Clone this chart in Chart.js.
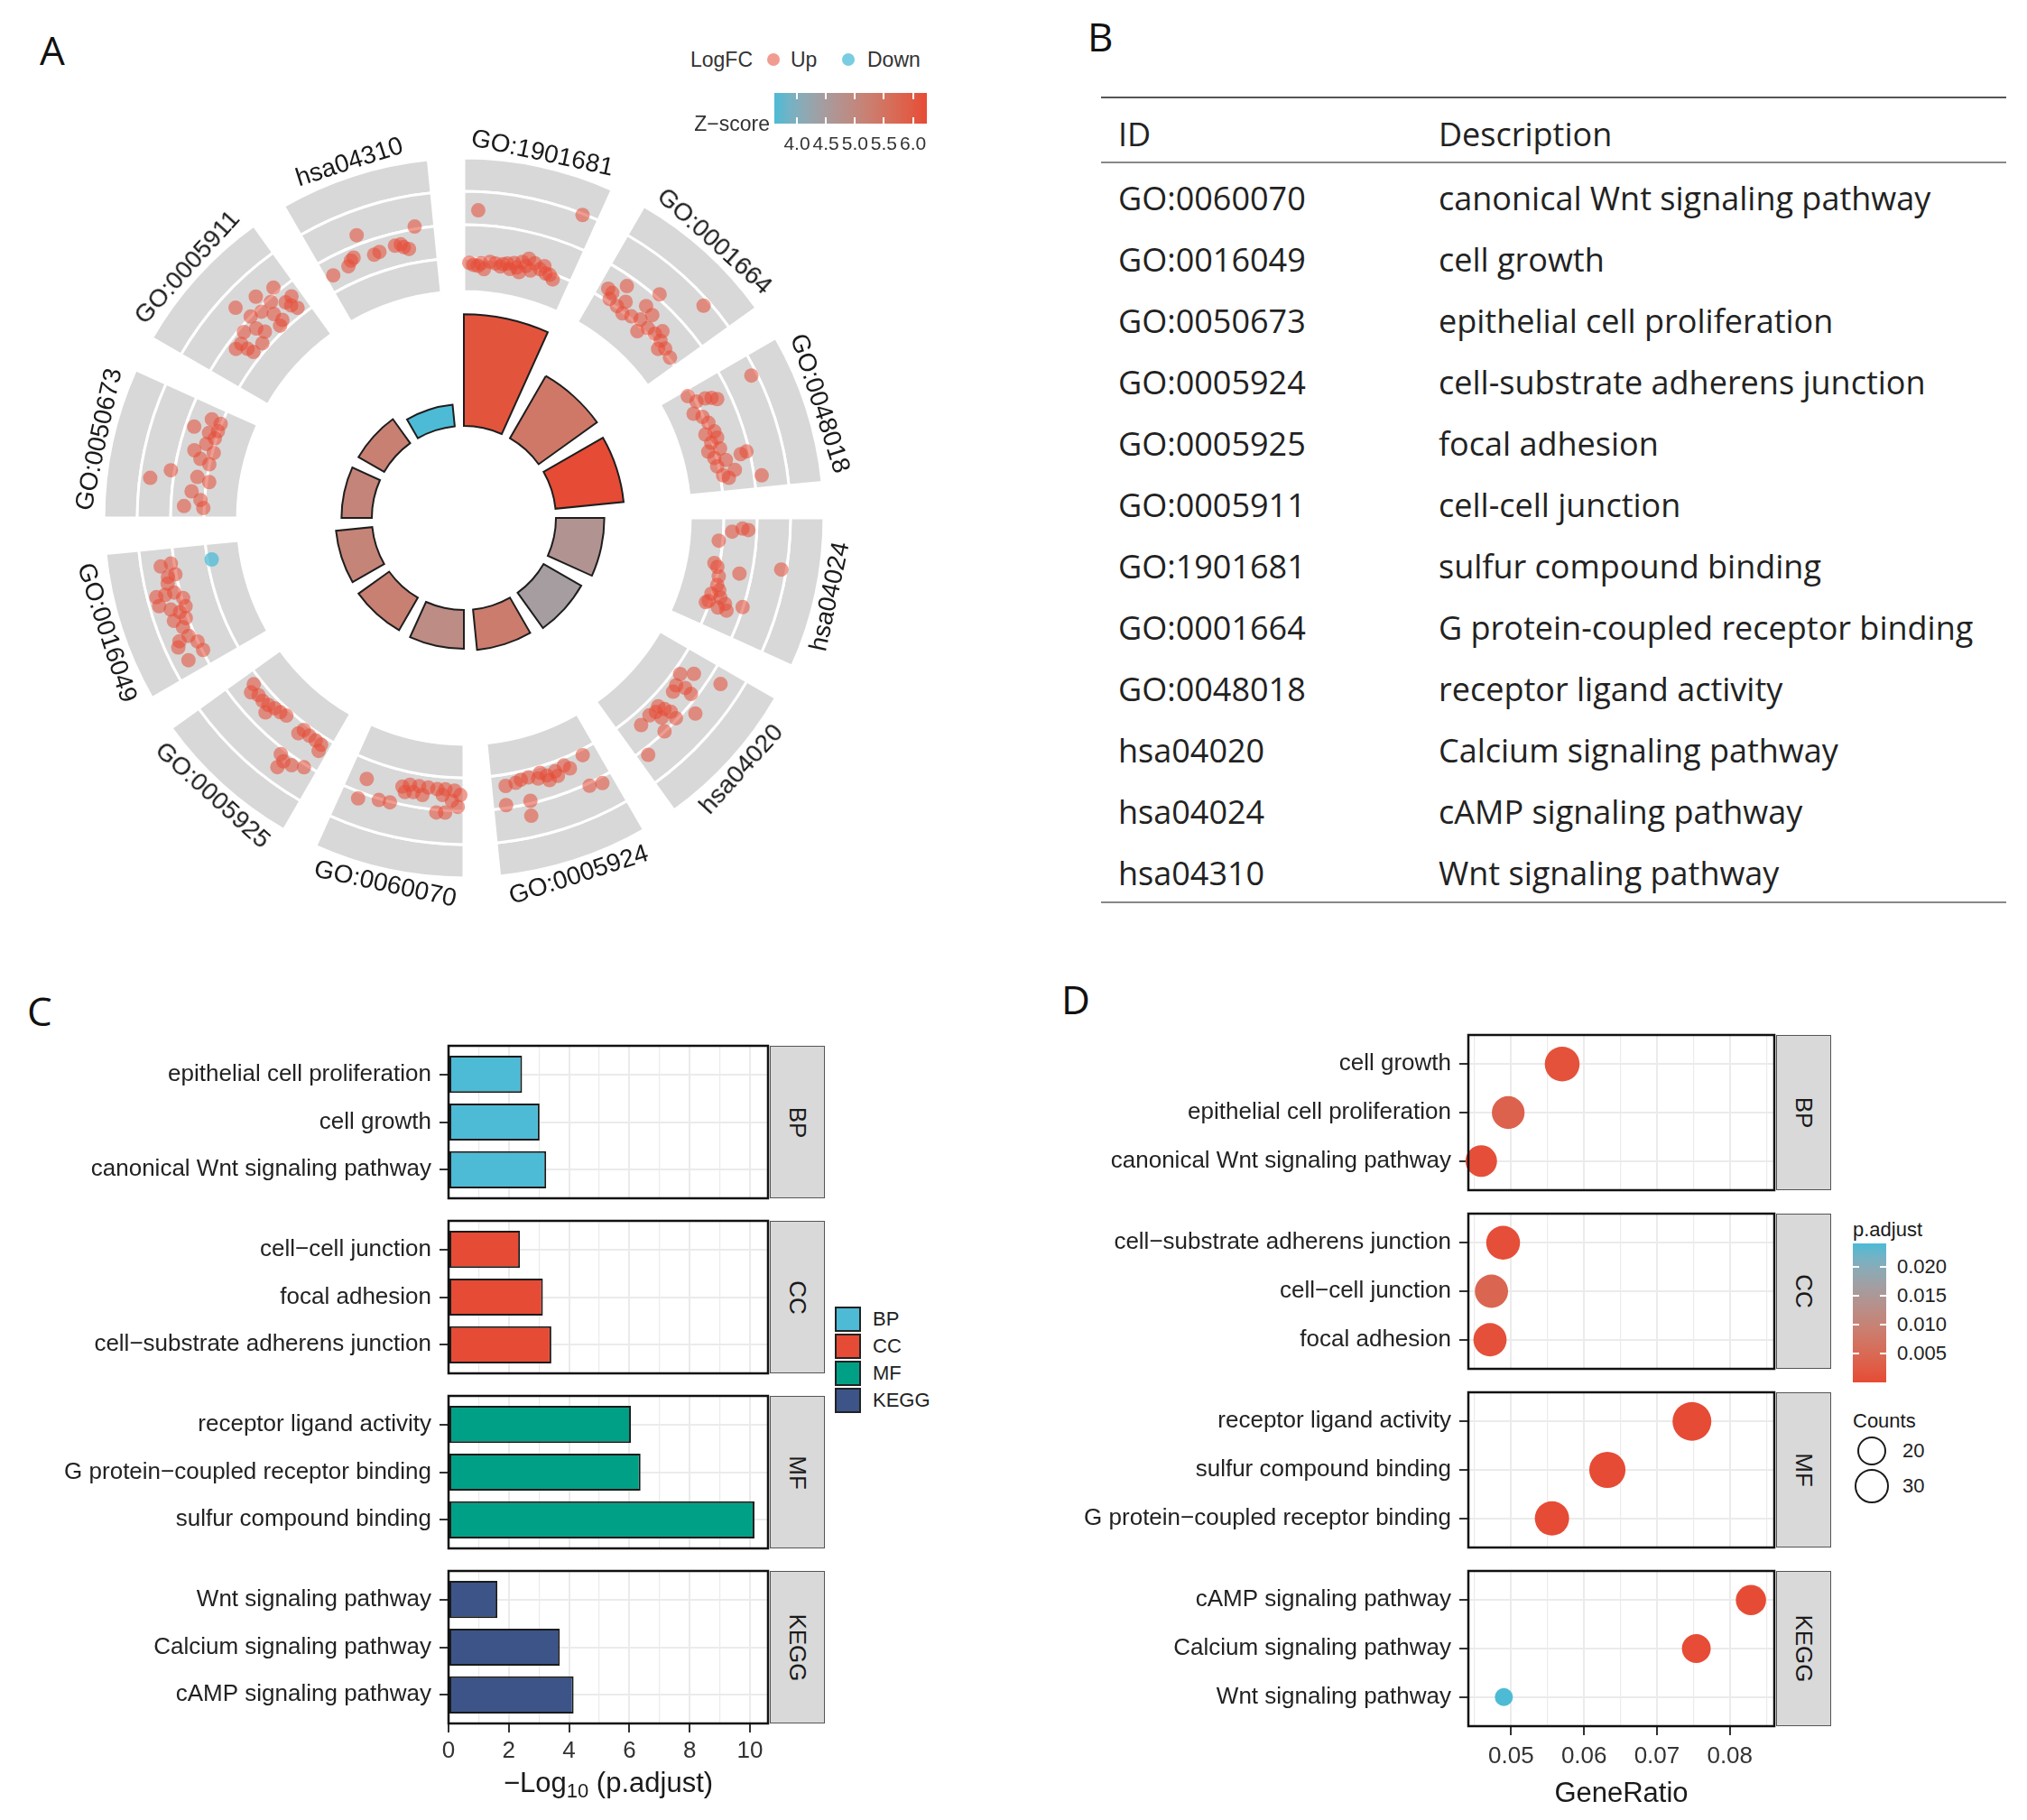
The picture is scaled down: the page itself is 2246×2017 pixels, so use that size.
<!DOCTYPE html>
<html>
<head>
<meta charset="utf-8">
<script src="https://cdn.jsdelivr.net/npm/chart.js"></script>
<style>
html, body { margin: 0; padding: 0; background: #fff; }
#page { position: relative; width: 2246px; height: 2017px; overflow: hidden; font-family: "Liberation Sans", Arial, sans-serif; color: #1a1a1a; }
#page canvas { position: absolute; }
.abs { position: absolute; white-space: nowrap; line-height: 1; }
.tbl { font-family: "Open Sans", sans-serif; font-size: 36px; color: #222; }
.letter { font-family: "Open Sans", sans-serif; font-size: 44px; color: #111; }
</style>
</head>
<body>
<div id="page"></div>
<script>
'use strict';
// ---------------- data ----------------
const termIds = ['GO:0060070', 'GO:0016049', 'GO:0050673', 'GO:0005924', 'GO:0005925', 'GO:0005911',
  'GO:1901681', 'GO:0001664', 'GO:0048018', 'hsa04020', 'hsa04024', 'hsa04310'];
const termDesc = ['canonical Wnt signaling pathway', 'cell growth', 'epithelial cell proliferation',
  'cell-substrate adherens junction', 'focal adhesion', 'cell-cell junction', 'sulfur compound binding',
  'G protein-coupled receptor binding', 'receptor ligand activity', 'Calcium signaling pathway',
  'cAMP signaling pathway', 'Wnt signaling pathway'];
const termOnt = ['BP', 'BP', 'BP', 'CC', 'CC', 'CC', 'MF', 'MF', 'MF', 'KEGG', 'KEGG', 'KEGG'];
const negLog10P = [3.24, 3.02, 2.44, 3.41, 3.13, 2.37, 10.15, 6.37, 6.05, 3.69, 4.15, 1.62];
const geneRatio = [0.0459, 0.0570, 0.0496, 0.0489, 0.0471, 0.0473, 0.0632, 0.0556, 0.0748, 0.0754, 0.0829, 0.0490];
const geneCount = [24, 30, 26, 28, 27, 27, 33, 29, 39, 20, 22, 13];
const zScore = [4.90, 5.11, 5.10, 5.29, 5.20, 5.20, 6.10, 5.39, 6.24, 4.47, 4.69, 3.61];

const ontologies = ['BP', 'CC', 'MF', 'KEGG'];
const ontColors = ['#4DBBD5', '#E64B35', '#00A087', '#3C5488'];

const logpTicks = [0, 1, 2, 3, 4, 5, 6, 7, 8, 9, 10];
const ratioTicks = [0.045, 0.05, 0.055, 0.06, 0.065, 0.07, 0.075, 0.08, 0.085];
const zTicks = [4.0, 4.5, 5.0, 5.5, 6.0];
const pTicks = [0.005, 0.010, 0.015, 0.020];
const countTicks = [20, 30];

// genes in the outer ring of panel A: [position across sector 0..1, scaled logFC, -1 if down]
const genes_GO1901681 = [[.11,2.61],[.88,3.14],[.09,.94],[.16,1.0],[.24,1.07],[.34,.97],[.43,.94],[.46,1.14],[.53,1.23],[.58,1.37],[.64,1.28],[.70,1.15],[.76,1.08],[.84,.98],[.19,.83],[.52,.90],[.62,1.03],[.40,1.09],[.29,1.04],[.73,1.28],[.57,1.13],[.80,1.08],[.05,1.0],[.13,.92],[.36,1.05],[.49,1.02]];
const genes_GO0001664 = [[.09,1.48],[.15,1.24],[.21,1.86],[.46,2.28],[.76,2.98],[.24,1.19],[.32,1.11],[.40,1.21],[.48,1.32],[.44,1.74],[.53,1.66],[.53,.99],[.58,1.28],[.66,1.31],[.74,1.29],[.82,1.24],[.91,1.18],[.78,1.07],[.69,1.53],[.28,1.45],[.14,1.44]];
const genes_GO0048018 = [[.15,3.0],[.06,.99],[.14,1.15],[.15,1.43],[.17,1.61],[.20,1.75],[.23,.91],[.29,1.12],[.36,1.22],[.45,1.30],[.45,1.01],[.54,1.10],[.51,1.32],[.61,1.31],[.68,1.07],[.76,1.10],[.85,1.23],[.88,1.39],[.82,1.61],[.70,1.88],[.69,2.07],[.90,2.39],[.72,1.40],[.61,.94]];
const genes_hsa04024 = [[.21,1.02],[.12,1.41],[.09,1.72],[.10,1.90],[.42,.98],[.45,1.09],[.53,1.19],[.47,1.79],[.38,3.02],[.61,1.21],[.70,1.11],[.79,1.03],[.71,1.41],[.75,1.60],[.80,1.71],[.73,2.14],[.65,1.31],[.77,1.10],[.80,1.43]];
const genes_hsa04020 = [[.24,1.35],[.17,1.69],[.34,1.46],[.31,1.73],[.40,1.51],[.32,1.98],[.12,2.54],[.58,1.47],[.56,1.67],[.54,1.86],[.63,1.54],[.69,1.48],[.55,2.11],[.42,2.46],[.80,1.53],[.69,2.15],[.91,2.37],[.63,1.79]];
const genes_GO0005924 = [[.87,1.49],[.89,2.07],[.73,1.39],[.66,1.37],[.58,1.48],[.50,1.47],[.42,1.43],[.33,1.36],[.29,1.51],[.14,1.31],[.69,2.08],[.71,2.53],[.20,2.24],[.10,2.34],[.78,1.45],[.49,1.63],[.41,1.59],[.55,1.33]];
const genes_GO0060070 = [[.84,1.71],[.85,2.36],[.69,2.20],[.60,2.18],[.53,1.62],[.47,1.52],[.39,1.51],[.31,1.51],[.23,1.53],[.16,1.51],[.08,1.54],[.22,2.24],[.15,2.22],[.05,2.03],[.03,1.67],[.50,1.77],[.35,1.76],[.10,1.85],[.18,1.69],[.43,1.72]];
const genes_GO0005925 = [[.89,1.39],[.85,1.61],[.79,1.49],[.73,1.51],[.67,1.47],[.61,1.40],[.55,1.37],[.64,1.69],[.49,1.32],[.31,1.50],[.29,1.32],[.22,1.36],[.15,1.37],[.09,1.39],[.08,1.59],[.32,2.33],[.27,2.46],[.28,2.71],[.11,2.25],[.20,2.41]];
const genes_GO0016049 = [[.85,1.01,-1],[.86,2.58],[.87,2.26],[.77,2.42],[.78,2.18],[.64,2.90],[.64,2.62],[.64,2.34],[.58,2.12],[.57,2.89],[.52,2.58],[.48,2.34],[.51,2.12],[.43,2.60],[.36,2.41],[.28,2.35],[.27,2.67],[.21,2.17],[.13,2.13],[.11,2.67],[.23,2.78],[.42,2.23],[.72,2.47]];
const genes_GO0050673 = [[.30,2.86],[.38,2.27],[.10,1.76],[.77,1.90],[.88,1.47],[.87,1.17],[.76,1.41],[.73,1.19],[.66,1.39],[.58,1.69],[.52,1.45],[.49,1.15],[.36,1.44],[.33,1.06],[.16,1.27],[.09,1.17],[.23,1.56],[.60,1.10],[.80,1.17]];
const genes_GO0005911 = [[.52,2.68],[.69,2.48],[.84,2.33],[.84,1.75],[.86,1.57],[.89,1.39],[.64,2.03],[.70,1.72],[.72,1.41],[.55,2.16],[.51,1.79],[.54,1.53],[.33,1.84],[.33,1.59],[.34,1.39],[.27,1.87],[.45,1.35],[.67,1.33],[.91,1.78],[.42,2.0],[.75,2.05]];
const genes_hsa04310 = [[.07,1.62],[.22,1.66],[.29,1.84],[.38,2.44],[.46,1.70],[.51,1.73],[.65,1.78],[.72,1.68],[.76,1.59],[.84,2.23],[.70,1.78],[.26,1.79]];

const genePoints = {
  'GO:1901681': genes_GO1901681, 'GO:0001664': genes_GO0001664, 'GO:0048018': genes_GO0048018,
  'hsa04024': genes_hsa04024, 'hsa04020': genes_hsa04020, 'GO:0005924': genes_GO0005924,
  'GO:0060070': genes_GO0060070, 'GO:0005925': genes_GO0005925, 'GO:0016049': genes_GO0016049,
  'GO:0050673': genes_GO0050673, 'GO:0005911': genes_GO0005911, 'hsa04310': genes_hsa04310
};

// ---------------- helpers ----------------
const page = document.getElementById('page');
Chart.defaults.font.family = "'Liberation Sans', Arial, sans-serif";
Chart.defaults.color = '#222';

function makeCanvas(left, top, w, h) {
  const c = document.createElement('canvas');
  c.width = w; c.height = h;
  c.style.left = left + 'px'; c.style.top = top + 'px';
  page.appendChild(c);
  return c;
}
function addText(txt, x, y, size, align, extra) {
  const d = document.createElement('div');
  d.className = 'abs';
  d.textContent = txt;
  const tx = align === 'right' ? '-100%' : align === 'center' ? '-50%' : '0';
  Object.assign(d.style, { left: x + 'px', top: y + 'px', fontSize: size + 'px', transform: `translate(${tx},-50%)` }, extra || {});
  page.appendChild(d);
  return d;
}
function addBox(x, y, w, h, style) {
  const d = document.createElement('div');
  d.className = 'abs';
  Object.assign(d.style, { left: x + 'px', top: y + 'px', width: w + 'px', height: h + 'px', boxSizing: 'border-box' }, style);
  page.appendChild(d);
  return d;
}

// colour gradient interpolated in Lab space (like ggplot)
function hex2rgb(h) { const n = parseInt(h.slice(1), 16); return [n >> 16 & 255, n >> 8 & 255, n & 255]; }
function rgb2lab(c) {
  const l = c.map(v => { v /= 255; return v <= 0.04045 ? v / 12.92 : Math.pow((v + 0.055) / 1.055, 2.4); });
  const X = (0.4124 * l[0] + 0.3576 * l[1] + 0.1805 * l[2]) / 0.95047;
  const Y = 0.2126 * l[0] + 0.7152 * l[1] + 0.0722 * l[2];
  const Z = (0.0193 * l[0] + 0.1192 * l[1] + 0.9505 * l[2]) / 1.08883;
  const f = t => t > 0.008856 ? Math.cbrt(t) : 7.787 * t + 16 / 116;
  return [116 * f(Y) - 16, 500 * (f(X) - f(Y)), 200 * (f(Y) - f(Z))];
}
function lab2rgb(L) {
  const fy = (L[0] + 16) / 116, fx = fy + L[1] / 500, fz = fy - L[2] / 200;
  const g = t => t * t * t > 0.008856 ? t * t * t : (t - 16 / 116) / 7.787;
  const X = g(fx) * 0.95047, Y = g(fy), Z = g(fz) * 1.08883;
  const lin = [3.2406 * X - 1.5372 * Y - 0.4986 * Z, -0.9689 * X + 1.8758 * Y + 0.0415 * Z, 0.0557 * X - 0.2040 * Y + 1.0570 * Z];
  return lin.map(v => { v = v <= 0.0031308 ? 12.92 * v : 1.055 * Math.pow(v, 1 / 2.4) - 0.055; return Math.round(Math.min(1, Math.max(0, v)) * 255); });
}
function gradient(lowHex, highHex) {
  const a = rgb2lab(hex2rgb(lowHex)), b = rgb2lab(hex2rgb(highHex));
  return t => {
    t = Math.min(1, Math.max(0, t));
    const c = lab2rgb(a.map((v, i) => v + (b[i] - v) * t));
    return `rgb(${c[0]},${c[1]},${c[2]})`;
  };
}
function cssStops(fn) {
  const s = [];
  for (let i = 0; i <= 10; i++) s.push(`${fn(i / 10)} ${i * 10}%`);
  return s.join(',');
}
const minusLabel = i => termDesc[i].replace(/-/g, '\u2212');

// ---------------- panel letters ----------------
addText('A', 44, 55, 44, 'left').className = 'abs letter';
addText('B', 1205, 40, 44, 'left').className = 'abs letter';
addText('C', 30, 1120, 44, 'left').className = 'abs letter';
addText('D', 1176, 1107, 44, 'left').className = 'abs letter';

// ---------------- panel A : GO circle ----------------
const A_LEFT = 64, A_TOP = 124, A_SIZE = 900;
const SECTOR = 24.3, GAP = 5.7;
const BAR_MIN = -9.15, BAR_MAX = 29.31, BAR_BASE = -0.43;
const RING_MIN = -6.78, RING_MAX = 5.38, LABEL_RING = 4.42;
const zMin = Math.min(...zScore), zMax = Math.max(...zScore);
const zGrad = gradient('#4DBBD5', '#E64B35');
const zColor = z => zGrad((z - zMin) / (zMax - zMin));
const UP_COL = 'rgba(230,75,53,0.55)', DOWN_COL = 'rgba(77,187,213,0.75)';

const circleOrder = termIds.map((_, i) => i).sort((a, b) => negLog10P[b] - negLog10P[a]);
const polarLabels = [], barVals = [], barBg = [], barBorder = [], barBw = [], angles = [];
circleOrder.forEach(i => {
  polarLabels.push(termIds[i], '');
  barVals.push(negLog10P[i], BAR_BASE);
  barBg.push(zColor(zScore[i]), 'rgba(0,0,0,0)');
  barBorder.push('#1e1e1e', 'rgba(0,0,0,0)');
  barBw.push(2, 0);
  angles.push(SECTOR, GAP);
});
const bandSets = [0, 1, 2, 3].map(b => ({
  rAxisID: 'ring', base: b,
  data: circleOrder.flatMap(() => [b + 1, b]),
  angle: angles,
  backgroundColor: circleOrder.flatMap(() => ['#d8d8d8', 'rgba(0,0,0,0)']),
  borderColor: '#ffffff',
  borderWidth: circleOrder.flatMap(() => [3, 0])
}));

// arcs start at their dataset base value instead of the centre
const ringBase = {
  id: 'ringBase',
  afterDatasetsUpdate(chart) {
    chart.data.datasets.forEach((ds, i) => {
      if (ds.base === undefined) return;
      const meta = chart.getDatasetMeta(i);
      const inner = meta.rScale.getDistanceFromCenterForValue(ds.base);
      meta.data.forEach(arc => { arc.innerRadius = inner; });
    });
  }
};

const polar = new Chart(makeCanvas(A_LEFT, A_TOP, A_SIZE, A_SIZE), {
  type: 'polarArea',
  data: {
    labels: polarLabels,
    datasets: [...bandSets, {
      rAxisID: 'r', base: BAR_BASE, data: barVals, angle: angles,
      backgroundColor: barBg, borderColor: barBorder, borderWidth: barBw, borderJoinStyle: 'miter'
    }]
  },
  options: {
    responsive: false, animation: false, events: [],
    layout: { padding: 0 },
    plugins: { legend: { display: false }, tooltip: { enabled: false } },
    scales: {
      r: { type: 'radialLinear', min: BAR_MIN, max: BAR_MAX, display: false, startAngle: 0,
        ticks: { display: false }, pointLabels: { display: false } },
      ring: { type: 'radialLinear', axis: 'r', min: RING_MIN, max: RING_MAX, display: false, startAngle: 0,
        ticks: { display: false }, pointLabels: { display: false } }
    }
  },
  plugins: [ringBase]
});

// gene points on top
const ringSpan = RING_MAX - RING_MIN;
const upPts = [], downPts = [];
circleOrder.forEach((ti, k) => {
  genePoints[termIds[ti]].forEach(([f, v, s]) => {
    const th = (k * (SECTOR + GAP) + f * SECTOR) * Math.PI / 180;
    const d = v - RING_MIN;
    (s < 0 ? downPts : upPts).push({ x: d * Math.sin(th), y: d * Math.cos(th) });
  });
});
new Chart(makeCanvas(A_LEFT, A_TOP, A_SIZE, A_SIZE), {
  type: 'scatter',
  data: { datasets: [
    { data: upPts, backgroundColor: UP_COL, borderWidth: 0, pointRadius: 8 },
    { data: downPts, backgroundColor: DOWN_COL, borderWidth: 0, pointRadius: 8 }
  ] },
  options: {
    responsive: false, animation: false, events: [],
    layout: { padding: 0 },
    plugins: { legend: { display: false }, tooltip: { enabled: false } },
    scales: {
      x: { type: 'linear', min: -ringSpan, max: ringSpan, display: false },
      y: { type: 'linear', min: -ringSpan, max: ringSpan, display: false }
    }
  }
});

// term labels around the ring
const ringScale = polar.scales.ring;
circleOrder.forEach((ti, k) => {
  const mid = k * (SECTOR + GAP) + SECTOR / 2;
  const rad = mid * Math.PI / 180;
  const d = ringScale.getDistanceFromCenterForValue(LABEL_RING);
  const x = A_LEFT + ringScale.xCenter + d * Math.sin(rad);
  const y = A_TOP + ringScale.yCenter - d * Math.cos(rad);
  let rot = mid;
  if (mid > 90 && mid < 270) rot = mid - 180; else if (mid >= 270) rot = mid - 360;
  const t = addText(termIds[ti], x, y, 28, 'center');
  t.style.transform = `translate(-50%,-50%) rotate(${rot}deg)`;
});

// legend of panel A
addText('LogFC', 765, 66, 23, 'left', { color: '#333' });
addBox(857 - 7, 66 - 7, 14, 14, { borderRadius: '50%', background: UP_COL });
addText('Up', 876, 66, 23, 'left', { color: '#333' });
addBox(940 - 7, 66 - 7, 14, 14, { borderRadius: '50%', background: DOWN_COL });
addText('Down', 961, 66, 23, 'left', { color: '#333' });
const ZB = { x: 858, y: 103, w: 169, h: 34 };
addBox(ZB.x, ZB.y, ZB.w, ZB.h, { background: `linear-gradient(to right, ${cssStops(zGrad)})` });
zTicks.forEach(z => {
  const x = ZB.x + (z - zMin) / (zMax - zMin) * ZB.w;
  addBox(x - 1, ZB.y, 2, 7, { background: '#fff' });
  addBox(x - 1, ZB.y + ZB.h - 7, 2, 7, { background: '#fff' });
  addText(z.toFixed(1), x, 158, 21, 'center', { color: '#333' });
});
addText('Z\u2212score', 853, 137, 23, 'right', { color: '#333' });

// ---------------- panel B : table ----------------
const B_L = 1220, B_W = 1003, B_ID = 1239, B_DESC = 1594;
addBox(B_L, 107, B_W, 2, { background: '#555' });
addBox(B_L, 179, B_W, 2, { background: '#888' });
addBox(B_L, 999, B_W, 2, { background: '#888' });
addText('ID', B_ID, 149, 36, 'left').className = 'abs tbl';
addText('Description', B_DESC, 149, 36, 'left').className = 'abs tbl';
termIds.forEach((id, i) => {
  const y = 220 + 68.0 * i;
  addText(id, B_ID, y, 36, 'left').className = 'abs tbl';
  addText(termDesc[i], B_DESC, y, 36, 'left').className = 'abs tbl';
});

// ---------------- shared facet helpers ----------------
const GRID = '#ebebeb';
const panelFrame = {
  id: 'panelFrame',
  afterDraw(chart) {
    const { ctx, chartArea: a } = chart;
    ctx.save();
    ctx.strokeStyle = '#111';
    ctx.lineWidth = 2.5;
    ctx.strokeRect(a.left, a.top, a.right - a.left, a.bottom - a.top);
    ctx.restore();
  }
};
function strip(x, y, h, txt) {
  addBox(x, y, 61, h, { background: '#d9d9d9', border: '1.5px solid #555' });
  const t = addText(txt, x + 30.5, y + h / 2, 26, 'center', { color: '#1a1a1a' });
  t.style.transform = 'translate(-50%,-50%) rotate(90deg)';
}
// discrete axis padded by 0.6 of a category on each side, as ggplot does
const DISCRETE_EXPAND = 0.6;
function yAxis(width) {
  return {
    type: 'category', offset: true,
    afterBuildTicks: s => {
      s._startValue = s.min - DISCRETE_EXPAND;
      s._valueRange = s.max - s.min + 2 * DISCRETE_EXPAND;
    },
    grid: { offset: false, color: GRID, lineWidth: 2, tickLength: 10, tickColor: '#333', tickWidth: 2 },
    ticks: { font: { size: 26 }, color: '#222', padding: 9, autoSkip: false },
    border: { display: false },
    afterFit: s => { s.width = width; s.paddingTop = 0; s.paddingBottom = 0; }
  };
}
function xAxis(min, max, ticks, isMajor, fmt, last, height, title, pad) {
  return {
    type: 'linear', min, max,
    afterBuildTicks: s => { s.ticks = ticks.map(v => ({ value: v })); },
    grid: {
      color: GRID, drawTicks: last, tickLength: 10, tickWidth: 2,
      lineWidth: c => (c.tick && isMajor(c.tick.value)) ? 2 : 1.2,
      tickColor: c => (c.tick && isMajor(c.tick.value)) ? '#333' : 'rgba(0,0,0,0)'
    },
    ticks: { display: last, font: { size: 26 }, color: '#333', padding: pad, autoSkip: false, maxRotation: 0,
      callback: v => isMajor(v) ? fmt(v) : '' },
    title: title ? { display: last, text: title, font: { size: 31 }, color: '#1a1a1a', padding: { top: 4, bottom: 0 } } : { display: false },
    border: { display: false },
    afterFit: s => { s.height = last ? height : 0; s.paddingLeft = 0; s.paddingRight = 0; }
  };
}

// ---------------- panel C : bar facets ----------------
const C_TOP = 1159, C_H = 169, C_GAP = 25, C_L = 497, C_R = 851, C_AXIS_W = 477, C_XAXIS_H = 50, C_XMAX = 10.6;
const evenTick = v => Math.round(v) % 2 === 0;
ontologies.forEach((ont, k) => {
  const idx = termIds.map((_, i) => i).filter(i => termOnt[i] === ont).sort((a, b) => negLog10P[a] - negLog10P[b]);
  const top = C_TOP + k * (C_H + C_GAP);
  const last = k === ontologies.length - 1;
  const cv = makeCanvas(C_L - C_AXIS_W, top - 3, C_AXIS_W + (C_R - C_L) + 4, C_H + 3 + (last ? C_XAXIS_H : 3));
  new Chart(cv, {
    type: 'bar',
    data: {
      labels: idx.map(minusLabel),
      datasets: [{ data: idx.map(i => negLog10P[i]), backgroundColor: ontColors[k], borderColor: '#1a1a1a',
        borderWidth: 2, borderSkipped: false, barPercentage: 0.78, categoryPercentage: 1 }]
    },
    options: {
      indexAxis: 'y', responsive: false, animation: false, events: [],
      layout: { autoPadding: false, padding: { top: 3, right: 4, bottom: last ? 0 : 3, left: 0 } },
      plugins: { legend: { display: false }, tooltip: { enabled: false } },
      scales: {
        x: xAxis(0, C_XMAX, logpTicks, evenTick, v => String(v), last, C_XAXIS_H, null, 5),
        y: yAxis(C_AXIS_W)
      }
    },
    plugins: [panelFrame]
  });
  strip(C_R + 2, top, C_H, ont);
});
const cTitle = document.createElement('div');
cTitle.className = 'abs';
cTitle.innerHTML = '\u2212Log<sub style="font-size:22px;vertical-align:-6px">10</sub> (p.adjust)';
Object.assign(cTitle.style, { left: (C_L + C_R) / 2 + 'px', top: '1978px', fontSize: '31px', transform: 'translate(-50%,-50%)', color: '#1a1a1a' });
page.appendChild(cTitle);
// legend C
ontologies.forEach((ont, k) => {
  addBox(925, 1448 + 30 * k, 29, 28, { background: ontColors[k], border: '2px solid #222' });
  addText(ont, 967, 1462 + 30 * k, 22, 'left', { color: '#222' });
});

// ---------------- panel D : dot facets ----------------
const D_TOP = 1147, D_H = 172, D_GAP = 26, D_L = 1627, D_R = 1966, D_AXIS_W = 487, D_XAXIS_H = 94;
const D_XMIN = 0.04413, D_XMAX = 0.0861;
const pVal = negLog10P.map(v => Math.pow(10, -v));
const pMin = Math.min(...pVal), pMax = Math.max(...pVal);
const pGrad = gradient('#E64B35', '#4DBBD5');
const pColor = p => pGrad((p - pMin) / (pMax - pMin));
const SIZE_MIN = 10, SIZE_MAX = 21.5;
const cMin = Math.min(...geneCount), cMax = Math.max(...geneCount);
const sizeOf = c => SIZE_MIN + (SIZE_MAX - SIZE_MIN) * Math.sqrt((c - cMin) / (cMax - cMin));
const ratioMajor = v => Math.abs(v * 100 - Math.round(v * 100)) < 1e-6;

ontologies.forEach((ont, k) => {
  const idx = termIds.map((_, i) => i).filter(i => termOnt[i] === ont).sort((a, b) => geneRatio[b] - geneRatio[a]);
  const top = D_TOP + k * (D_H + D_GAP);
  const last = k === ontologies.length - 1;
  const cv = makeCanvas(D_L - D_AXIS_W, top - 3, D_AXIS_W + (D_R - D_L) + 4, D_H + 3 + (last ? D_XAXIS_H : 3));
  new Chart(cv, {
    type: 'bubble',
    data: {
      datasets: [{
        data: idx.map(i => ({ x: geneRatio[i], y: minusLabel(i), r: sizeOf(geneCount[i]) })),
        backgroundColor: idx.map(i => pColor(pVal[i])), borderWidth: 0, clip: false
      }]
    },
    options: {
      responsive: false, animation: false, events: [],
      layout: { autoPadding: false, padding: { top: 3, right: 4, bottom: last ? 0 : 3, left: 0 } },
      plugins: { legend: { display: false }, tooltip: { enabled: false } },
      scales: {
        x: xAxis(D_XMIN, D_XMAX, ratioTicks, ratioMajor, v => v.toFixed(2), last, D_XAXIS_H, 'GeneRatio', 8),
        y: Object.assign(yAxis(D_AXIS_W), { labels: idx.map(minusLabel) })
      }
    },
    plugins: [panelFrame]
  });
  strip(D_R + 2, top, D_H, ont);
});

// legend D
addText('p.adjust', 2053, 1363, 22, 'left', { color: '#1a1a1a' });
const PB = { x: 2053, y: 1378, w: 37, h: 154 };
addBox(PB.x, PB.y, PB.w, PB.h, { background: `linear-gradient(to top, ${cssStops(pGrad)})` });
pTicks.forEach(p => {
  const y = PB.y + PB.h * (1 - (p - pMin) / (pMax - pMin));
  addBox(PB.x, y - 1, 7, 2, { background: '#fff' });
  addBox(PB.x + PB.w - 7, y - 1, 7, 2, { background: '#fff' });
  addText(p.toFixed(3), 2102, y, 22, 'left', { color: '#222' });
});
addText('Counts', 2053, 1575, 22, 'left', { color: '#1a1a1a' });
countTicks.forEach((c, k) => {
  const r = sizeOf(c), cy = 1608 + 39 * k;
  addBox(2074 - r, cy - r, 2 * r, 2 * r, { borderRadius: '50%', border: '2px solid #1a1a1a' });
  addText(String(c), 2108, cy, 22, 'left', { color: '#222' });
});
</script>
</body>
</html>
